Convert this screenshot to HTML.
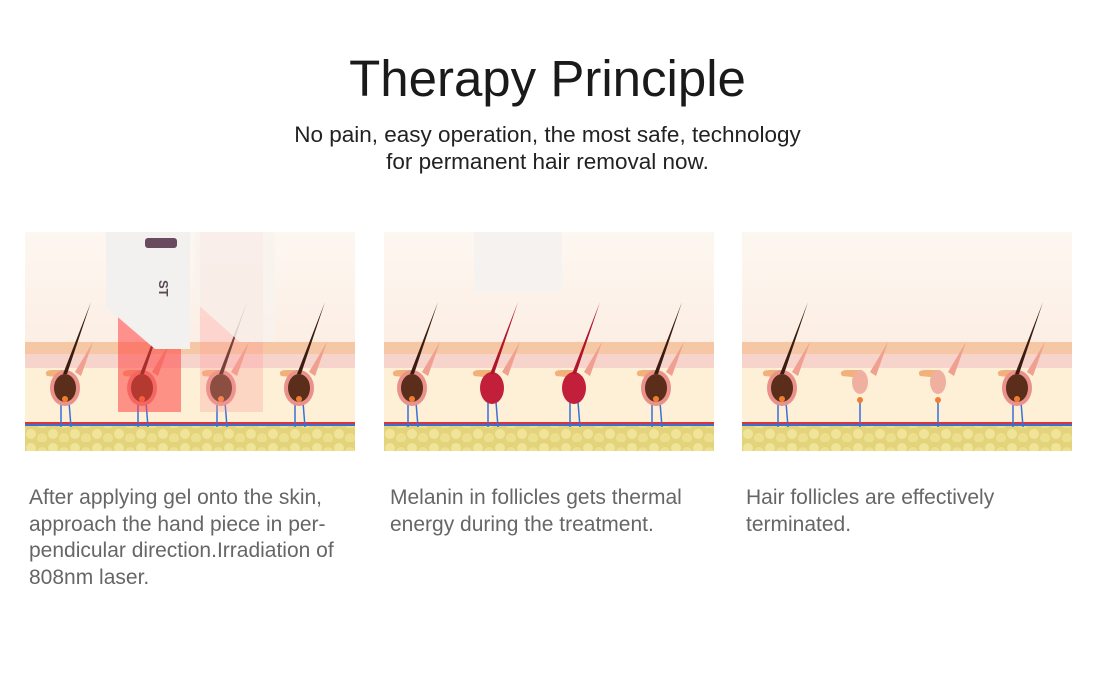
<!DOCTYPE html>
<html><head><meta charset="utf-8"><style>
body{margin:0;width:1095px;height:691px;background:#fff;font-family:"Liberation Sans",sans-serif;position:relative;overflow:hidden}
.t{position:absolute;left:0;width:1095px;text-align:center;top:49px;font-size:51px;color:#1a1a1a}
.s{position:absolute;left:0;width:1095px;text-align:center;top:121px;font-size:22.5px;line-height:27px;color:#222}
.c{position:absolute;top:485px;font-size:21px;line-height:26.7px;color:#666}
svg{position:absolute;top:232px}
</style></head><body>
<div class="t">Therapy Principle</div>
<div class="s">No pain, easy operation, the most safe, technology<br>for permanent hair removal now.</div>
<svg width="0" height="0" style="position:absolute">
<defs>
<linearGradient id="bg" x1="0" y1="0" x2="0" y2="1"><stop offset="0" stop-color="#fdf7f1"/><stop offset="1" stop-color="#fbe6d8"/></linearGradient>
<pattern id="fat" width="22" height="14" patternUnits="userSpaceOnUse"><rect width="22" height="14" fill="#e3d37a"/><circle cx="6" cy="6" r="5" fill="#f0e49a"/><circle cx="17" cy="10" r="5" fill="#ecdf90"/></pattern>
<g id="base">
<rect width="330" height="219" fill="url(#bg)"/>
<rect y="110" width="330" height="12" fill="#f5c7a4"/>
<rect y="122" width="330" height="14" fill="#f6d4cc"/>
<rect y="136" width="330" height="56" fill="#fdf0d6"/>
<rect y="190" width="330" height="2" fill="#d33"/>
<rect y="192" width="330" height="2" fill="#3a6fd6"/>
<rect y="194" width="330" height="25" fill="url(#fat)"/>
</g>
<g id="hair">
<path d="M-4 170 L-4 195 M4 170 L6 195" stroke="#3a6fd6" stroke-width="1.5" fill="none"/>
<path d="M-18 144 q-4 -6 6 -6 l14 0 l0 8 z" fill="#f2b07a"/>
<path d="M10 140 l18 -30 l-12 34 z" fill="#f0a090"/>
<ellipse cx="0" cy="156" rx="15" ry="18" fill="#e9918a"/>
<ellipse cx="0" cy="156" rx="11" ry="14" fill="#5a2e1a"/>
<circle cx="0" cy="167" r="3" fill="#f08030"/>
<path d="M-2 142 L2 142 L26 70 Z" fill="#3a1c10"/>
</g>
<g id="hairR">
<path d="M-4 170 L-4 195 M4 170 L6 195" stroke="#3a6fd6" stroke-width="1.5" fill="none"/>
<path d="M-18 144 q-4 -6 6 -6 l14 0 l0 8 z" fill="#f2b07a"/>
<path d="M10 140 l18 -30 l-12 34 z" fill="#f0a090"/>
<ellipse cx="0" cy="156" rx="12" ry="16" fill="#c2203a"/>
<path d="M-2 142 L2 142 L26 70 Z" fill="#b0152a"/>
</g>
<g id="hairD">
<path d="M0 170 L0 195" stroke="#3a6fd6" stroke-width="1.5"/>
<circle cx="0" cy="168" r="3" fill="#f08030"/>
<path d="M-18 144 q-4 -6 6 -6 l14 0 l0 8 z" fill="#f2b07a"/>
<path d="M10 140 l18 -30 l-12 34 z" fill="#f0a090"/>
<ellipse cx="0" cy="150" rx="8" ry="12" fill="#f0b0a0"/>
</g>
</defs></svg>
<svg style="left:25px" width="330" height="219">
<use href="#base"/>
<use href="#hair" x="40"/><use href="#hair" x="117"/><use href="#hair" x="196"/><use href="#hair" x="274"/>
<rect x="93" y="0" width="63" height="180" fill="#f44" opacity="0.55"/>
<rect x="175" y="0" width="63" height="180" fill="#f99" opacity="0.3"/>
<path d="M81 0 H165 V117 H130 L81 75 Z" fill="#f3f1f0"/>
<path d="M170 0 H250 V110 H215 L170 70 Z" fill="#f8f2ee" opacity="0.8"/>
<rect x="120" y="6" width="32" height="10" rx="3" fill="#6a4a5e"/>
<text x="134" y="48" font-size="13" font-weight="bold" fill="#5a4a55" transform="rotate(90 134 48)">ST</text>
</svg>
<svg style="left:384px" width="330" height="219">
<use href="#base"/>
<path d="M90 0 H178 V60 H90 Z" fill="#f5f2f0"/>
<use href="#hair" x="28"/><use href="#hairR" x="108"/><use href="#hairR" x="190"/><use href="#hair" x="272"/>
</svg>
<svg style="left:742px" width="330" height="219">
<use href="#base"/>
<use href="#hair" x="40"/><use href="#hairD" x="118"/><use href="#hairD" x="196"/><use href="#hair" x="275"/>
</svg>
<div class="c" style="left:29px">After applying gel onto the skin,<br>approach the hand piece in per-<br>pendicular direction.Irradiation of<br>808nm laser.</div>
<div class="c" style="left:390px">Melanin in follicles gets thermal<br>energy during the treatment.</div>
<div class="c" style="left:746px">Hair follicles are effectively<br>terminated.</div>
</body></html>
